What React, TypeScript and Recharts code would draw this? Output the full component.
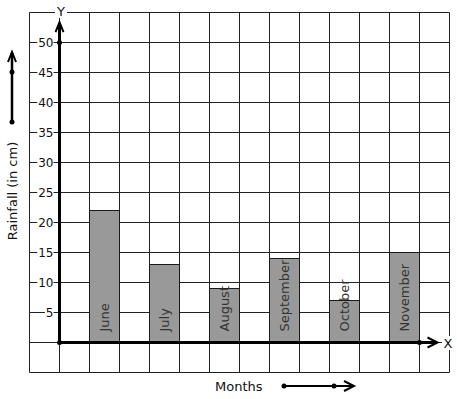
import React from 'react';
import {
  BarChart, Bar, XAxis, YAxis, CartesianGrid, ReferenceLine, ReferenceDot, LabelList,
} from 'recharts';

const months = ['June', 'July', 'August', 'September', 'October', 'November'];
const rainfall = [22, 13, 9, 14, 7, 15];
const yTicks = [-5, 0, 5, 10, 15, 20, 25, 30, 35, 40, 45, 50, 55];
const yLabelTicks = [5, 10, 15, 20, 25, 30, 35, 40, 45, 50];
const gridTicks = [0, 1, 2, 3, 4, 5, 6, 7, 8, 9, 10, 11, 12, 13, 14];
const slotCount = 14;
const firstSlot = 2;

const data = Array.from({ length: slotCount }, (_, s) => {
  const i = (s - firstSlot) / 2;
  const ok = s >= firstSlot && (s - firstSlot) % 2 === 0 && i < months.length;
  return { slot: `s${s}`, pos: s, month: ok ? months[i] : '', rain: ok ? rainfall[i] : null };
});

const FONT = '"DejaVu Sans", sans-serif';

const YTick = (props: any) => {
  const { x, y, payload } = props;
  const v = payload.value;
  if (!yLabelTicks.includes(v)) return null;
  const label = String(v);
  const right = x + 24;
  const w = label.length * 7.6 + 1;
  return (
    <g>
      <rect x={right - w} y={y - 6} width={w} height={12} fill="#fff" />
      <text x={right} y={y} textAnchor="end" dominantBaseline="central" fontSize={12} fill="#111" fontFamily={FONT}>
        {label}
      </text>
    </g>
  );
};

const ArrowLine = (dir: 'up' | 'right') => (props: any) => {
  const { x1, y1, x2, y2 } = props;
  if (dir === 'up') {
    const tx = x2, ty = Math.min(y1, y2);
    const head = `M${tx - 4},${ty + 10} L${tx},${ty} L${tx + 4},${ty + 10}`;
    return (
      <g>
        <line x1={x1} y1={Math.max(y1, y2)} x2={tx} y2={ty + 1} stroke="#000" strokeWidth={3} />
        <path d={head} fill="none" stroke="#000" strokeWidth={2} />
      </g>
    );
  }
  const tx = Math.max(x1, x2), ty = y2;
  const head = `M${tx - 10},${ty - 5} L${tx},${ty} L${tx - 10},${ty + 5}`;
  return (
    <g>
      <line x1={Math.min(x1, x2)} y1={y1} x2={tx - 1} y2={ty} stroke="#000" strokeWidth={3} />
      <path d={head} fill="none" stroke="#000" strokeWidth={2} />
    </g>
  );
};

const MonthLabel = (props: any) => {
  const vb = props.viewBox || props;
  const { x, y, width, height } = vb;
  const value = props.value;
  if (!value) return null;
  const cx = x + width / 2;
  const by = y + height - 11;
  return (
    <text
      x={cx}
      y={by}
      transform={`rotate(-90, ${cx}, ${by})`}
      textAnchor="start"
      dominantBaseline="central"
      fontSize={13}
      fill="#333"
      fontFamily={FONT}
    >
      {value}
    </text>
  );
};

export default function App() {
  return (
    <div style={{ position: 'absolute', left: 0, top: 0, width: 457, height: 399, background: '#fff', fontFamily: FONT }}>
      <BarChart
        width={457}
        height={399}
        data={data}
        margin={{ top: 12.5, right: 7.5, bottom: 26.5, left: 0 }}
        barCategoryGap={0}
        barGap={0}
      >
        <XAxis xAxisId="cat" dataKey="slot" hide padding={{ left: 0, right: 0 }} />
        <XAxis xAxisId="grid" dataKey="pos" type="number" domain={[0, 14]} ticks={gridTicks} hide allowDataOverflow />
        <YAxis
          domain={[-5, 55]}
          ticks={yTicks}
          interval={0}
          width={29.5}
          axisLine={false}
          tickLine={false}
          tickSize={0}
          tickMargin={0}
          tick={<YTick />}
          allowDataOverflow
        />
        <CartesianGrid xAxisId="grid" stroke="#222" strokeWidth={1} />
        <Bar xAxisId="cat" dataKey="rain" fill="#999999" stroke="#1a1a1a" strokeWidth={1} isAnimationActive={false}>
          <LabelList dataKey="month" content={<MonthLabel />} />
        </Bar>
        <ReferenceLine xAxisId="grid" segment={[{ x: 1, y: 0 }, { x: 1, y: 53.4 }]} shape={ArrowLine('up')} />
        <ReferenceLine xAxisId="grid" segment={[{ x: 1, y: 0 }, { x: 13.6, y: 0 }]} shape={ArrowLine('right')} />
        <ReferenceDot xAxisId="grid" x={1} y={50} r={2.5} fill="#000" stroke="none" />
        <ReferenceDot xAxisId="grid" x={1} y={0} r={2.5} fill="#000" stroke="none" />
        <ReferenceDot xAxisId="grid" x={13} y={0} r={2.5} fill="#000" stroke="none" />
      </BarChart>
      <svg width={457} height={399} style={{ position: 'absolute', left: 0, top: 0, pointerEvents: 'none' }}>
        <g fontFamily={FONT}>
          <rect x={55} y={4} width={12} height={14} fill="#fff" />
          <text x={61} y={11} textAnchor="middle" dominantBaseline="central" fontSize={13} fill="#111">Y</text>
          <rect x={442} y={336} width={12} height={14} fill="#fff" />
          <text x={448} y={343} textAnchor="middle" dominantBaseline="central" fontSize={13} fill="#111">X</text>
          <line x1={12} y1={53} x2={12} y2={122} stroke="#000" strokeWidth={2.5} />
          <path d="M8,62 L12,52 L16,62" fill="none" stroke="#000" strokeWidth={2} />
          <circle cx={12} cy={72} r={2.5} fill="#000" />
          <circle cx={12} cy={122} r={2.5} fill="#000" />
          <text x={12} y={191} transform="rotate(-90, 12, 191)" textAnchor="middle" dominantBaseline="central" fontSize={13} fill="#111">
            Rainfall (in cm)
          </text>
          <text x={215} y={386} textAnchor="start" dominantBaseline="central" fontSize={13} fill="#111">Months</text>
          <line x1={284} y1={386} x2={353} y2={386} stroke="#000" strokeWidth={2} />
          <path d="M344,381 L354,386 L344,391" fill="none" stroke="#000" strokeWidth={2} />
          <circle cx={284} cy={386} r={2.5} fill="#000" />
          <circle cx={334} cy={386} r={2.5} fill="#000" />
        </g>
      </svg>
    </div>
  );
}
